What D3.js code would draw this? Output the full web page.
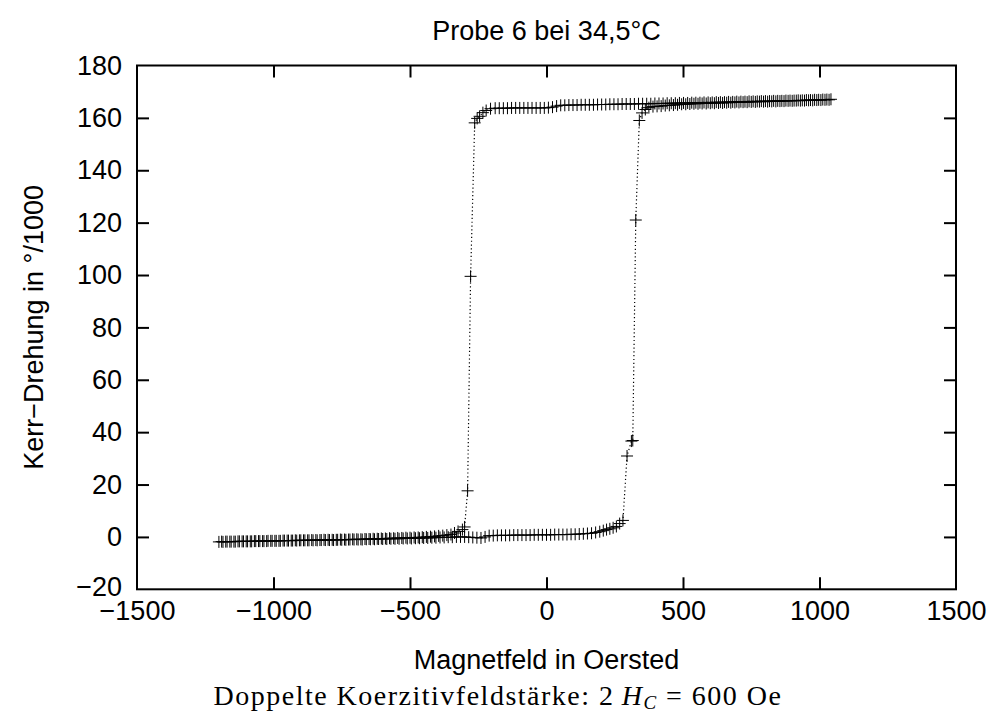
<!DOCTYPE html>
<html>

<head>
    <meta charset="utf-8">
    <title> Probe 6 bei 34,5°C </title>
    <script src="https://cdnjs.cloudflare.com/ajax/libs/d3/7.8.5/d3.min.js"></script>
    <style>
        html, body {
            margin: 0;
            padding: 0;
            background: #ffffff;
        }

        svg text {
            font-family: "Liberation Sans", Arial, Helvetica, sans-serif;
            fill: #000000;
        }

        text.caption {
            font-family: "Liberation Serif", "DejaVu Serif", serif;
        }
    </style>
</head>

<body>
    <div id="chart"></div>

    <script>
        // Achsen
        const xTicks = [-1500, -1000, -500, 0, 500, 1000, 1500];
        const yTicks = [-20, 0, 20, 40, 60, 80, 100, 120, 140, 160, 180];

        const titel = "Probe 6 bei 34,5°C";
        const xLabel = "Magnetfeld in Oersted";
        const yLabel = "Kerr\u2212Drehung in °/1000";

        // Messung: Feld steigend [Oe, Kerr-Drehung]
        const aufsteigend = [
            [-1200,-1.9],[-1185,-1.9],[-1170,-1.8],[-1155,-1.8],[-1140,-1.8],[-1125,-1.7],[-1110,-1.7],[-1095,-1.7],
            [-1080,-1.7],[-1065,-1.6],[-1050,-1.6],[-1035,-1.6],[-1020,-1.5],[-1005,-1.5],[-990,-1.5],[-975,-1.5],
            [-960,-1.4],[-945,-1.4],[-930,-1.4],[-915,-1.4],[-900,-1.3],[-885,-1.3],[-870,-1.3],[-855,-1.3],
            [-840,-1.3],[-825,-1.2],[-810,-1.2],[-795,-1.2],[-780,-1.2],[-765,-1.1],[-750,-1.1],[-735,-1.1],
            [-720,-1.0],[-705,-1.0],[-690,-1.0],[-675,-1.0],[-660,-0.9],[-645,-0.9],[-630,-0.9],[-615,-0.8],
            [-600,-0.8],[-585,-0.8],[-570,-0.7],[-555,-0.7],[-540,-0.7],[-525,-0.6],[-510,-0.6],[-495,-0.6],
            [-480,-0.5],[-465,-0.5],[-450,-0.4],[-435,-0.4],[-420,-0.3],[-405,-0.3],[-390,-0.2],[-375,-0.2],
            [-360,-0.1],[-345,-0.1],[-330,0.0],[-315,0.0],[-300,0.0],[-285,-0.1],[-270,-0.2],[-255,-0.3],
            [-240,-0.4],[-225,0.0],[-210,0.5],[-195,0.5],[-180,0.6],[-165,0.6],[-150,0.6],[-135,0.6],
            [-120,0.7],[-105,0.7],[-90,0.7],[-75,0.7],[-60,0.7],[-45,0.8],[-30,0.8],[-15,0.8],
            [0,0.8],[15,0.8],[30,0.9],[45,0.9],[60,0.9],[75,0.9],[90,1.0],[105,1.0],
            [120,1.1],[135,1.2],[150,1.3],[165,1.4],[180,1.7],[195,2.0],
            [208,2.4],[220,2.8],[232,3.1],[244,3.5],[256,4.0],[268,5.1],[280,6.3],
            [295,30.9],[311,36.6],[316,36.8],[327,121.0],[340,159.0],[350,161.9],[362,163.2],[375,163.9],
            [390,164.3],[405,164.4],[420,164.5],[435,164.7],[450,164.8],[465,164.9],[480,165.0],[495,165.2],
            [510,165.2],[525,165.3],[540,165.4],[555,165.4],[570,165.5],[585,165.5],[600,165.6],[615,165.6],
            [630,165.7],[645,165.7],[660,165.8],[675,165.8],[690,165.9],[705,165.9],[720,166.0],[735,166.0],
            [750,166.1],[765,166.1],[780,166.2],[795,166.2],[810,166.2],[825,166.3],[840,166.3],[855,166.4],
            [870,166.4],[885,166.5],[900,166.5],[915,166.6],[930,166.6],[945,166.6],[960,166.7],[975,166.7],
            [990,166.8],[1005,166.8],[1020,166.9],[1035,166.9]
        ];

        // Messung: Feld fallend [Oe, Kerr-Drehung]
        const absteigend = [
            [1042,167.1],[1027,167.0],[1012,167.0],[997,166.9],[982,166.9],[967,166.8],[952,166.8],[937,166.7],
            [922,166.7],[907,166.6],[892,166.6],[877,166.6],[862,166.5],[847,166.5],[832,166.5],[817,166.4],
            [802,166.4],[787,166.4],[772,166.3],[757,166.3],[742,166.3],[727,166.2],[712,166.2],[697,166.2],
            [682,166.1],[667,166.1],[652,166.0],[637,166.0],[622,166.0],[607,165.9],[592,165.9],[577,165.9],
            [562,165.8],[547,165.8],[532,165.8],[517,165.7],[502,165.7],[487,165.7],[472,165.6],[457,165.6],
            [442,165.6],[427,165.5],[412,165.5],[397,165.5],[382,165.4],[367,165.4],[352,165.4],[337,165.4],
            [322,165.3],[307,165.3],[292,165.3],[277,165.3],[262,165.2],[247,165.2],[232,165.2],[217,165.1],
            [202,165.1],[187,165.1],[172,165.0],[157,165.0],[142,165.0],[127,165.0],[112,164.9],[97,164.9],
            [82,164.9],[67,164.8],[52,164.8],[37,164.5],[22,164.1],[7,163.9],[-8,163.8],[-23,163.8],
            [-38,163.8],[-53,163.8],[-68,163.8],[-83,163.8],[-98,163.8],[-113,163.8],[-128,163.8],[-143,163.7],
            [-158,163.7],[-173,163.7],[-188,163.7],
            [-205,163.5],[-221,162.8],[-233,162.0],[-245,160.6],[-254,159.8],[-263,158.1],
            [-278,99.5],[-289,17.6],[-300,3.8],[-308,2.8],[-324,2.1],[-337,1.5],
            [-350,0.9],[-365,0.7],[-380,0.5],[-395,0.4],[-410,0.2],[-425,0.1],[-440,0.0],[-455,-0.1],
            [-470,-0.2],[-485,-0.2],[-500,-0.3],[-515,-0.3],[-530,-0.4],[-545,-0.4],[-560,-0.5],[-575,-0.5],
            [-590,-0.6],[-605,-0.6],[-620,-0.7],[-635,-0.7],[-650,-0.8],[-665,-0.8],[-680,-0.9],[-695,-0.9],
            [-710,-0.9],[-725,-1.0],[-740,-1.0],[-755,-1.0],[-770,-1.1],[-785,-1.1],[-800,-1.1],[-815,-1.1],
            [-830,-1.2],[-845,-1.2],[-860,-1.2],[-875,-1.3],[-890,-1.3],[-905,-1.3],[-920,-1.3],[-935,-1.4],
            [-950,-1.4],[-965,-1.4],[-980,-1.5],[-995,-1.5],[-1010,-1.5],[-1025,-1.6],[-1040,-1.6],[-1055,-1.6],
            [-1070,-1.6],[-1085,-1.7],[-1100,-1.7],[-1115,-1.7],[-1130,-1.7],[-1145,-1.8],[-1160,-1.8],[-1175,-1.8],
            [-1190,-1.8]
        ];

        const width = 995, height = 715;
        const plot = {left: 137, right: 956, top: 65.5, bottom: 589.3};
        const tickLen = 12;
        const fontSize = 27;

        const svg = d3.select("#chart")
            .append("svg")
            .attr("width", width)
            .attr("height", height);

        const x = d3.scaleLinear().domain([-1500, 1500]).range([plot.left, plot.right]);
        const y = d3.scaleLinear().domain([-20, 180]).range([plot.bottom, plot.top]);

        // Achsen mit Ticks nach innen (wie gnuplot), gespiegelt oben und rechts
        const xAxis = svg.append("g")
            .attr("transform", `translate(0,${plot.bottom})`)
            .call(d3.axisBottom(x).tickValues(xTicks).tickFormat(d3.format("d"))
                .tickSize(-tickLen).tickPadding(12));

        svg.append("g")
            .attr("transform", `translate(0,${plot.top})`)
            .call(d3.axisTop(x).tickValues(xTicks.slice(1, -1)).tickSize(-tickLen).tickFormat(""));

        const yAxis = svg.append("g")
            .attr("transform", `translate(${plot.left},0)`)
            .call(d3.axisLeft(y).tickValues(yTicks).tickFormat(d3.format("d"))
                .tickSize(-tickLen).tickPadding(15));

        svg.append("g")
            .attr("transform", `translate(${plot.right},0)`)
            .call(d3.axisRight(y).tickValues(yTicks.slice(1, -1)).tickSize(-tickLen).tickFormat(""));

        svg.selectAll(".domain").remove();
        svg.selectAll(".tick line").attr("stroke", "#000").attr("stroke-width", 2);
        // keine Ticks in den Ecken
        xAxis.selectAll(".tick").filter(d => d === -1500 || d === 1500).select("line").remove();
        yAxis.selectAll(".tick").filter(d => d === -20 || d === 180).select("line").remove();

        svg.selectAll(".tick text")
            .attr("font-size", fontSize)
            .attr("font-family", "Liberation Sans, Arial, sans-serif");
        // -20 etwas hoeher, damit es nicht an -1500 stoesst
        yAxis.selectAll(".tick").filter(d => d === -20).select("text").attr("dy", "0.22em");

        // Rahmen
        svg.append("rect")
            .attr("x", plot.left)
            .attr("y", plot.top)
            .attr("width", plot.right - plot.left)
            .attr("height", plot.bottom - plot.top)
            .attr("fill", "none")
            .attr("stroke", "#000")
            .attr("stroke-width", 2);

        // Daten: gepunktete Linie + Kreuze
        const alle = aufsteigend.concat(absteigend);

        const line = d3.line()
            .x(d => x(d[0]))
            .y(d => y(d[1]));

        svg.append("path")
            .datum(alle)
            .attr("d", line)
            .attr("fill", "none")
            .attr("stroke", "#000")
            .attr("stroke-width", 1.2)
            .attr("stroke-dasharray", "1.2,2.6");

        svg.append("g")
            .selectAll("path")
            .data(alle)
            .join("path")
            .attr("transform", d => `translate(${x(d[0])},${y(d[1])})`)
            .attr("d", "M-6,0H6M0,-6V6")
            .attr("fill", "none")
            .attr("stroke", "#000")
            .attr("stroke-width", 1);

        // Texte
        svg.append("text")
            .attr("x", (plot.left + plot.right) / 2)
            .attr("y", 40)
            .attr("text-anchor", "middle")
            .attr("font-size", fontSize)
            .text(titel);

        svg.append("text")
            .attr("x", (plot.left + plot.right) / 2)
            .attr("y", 669)
            .attr("text-anchor", "middle")
            .attr("font-size", fontSize)
            .text(xLabel);

        svg.append("text")
            .attr("transform", `translate(43,${(plot.top + plot.bottom) / 2}) rotate(-90)`)
            .attr("text-anchor", "middle")
            .attr("font-size", fontSize)
            .text(yLabel);

        const caption = svg.append("text")
            .attr("class", "caption")
            .attr("x", 498)
            .attr("y", 705)
            .attr("text-anchor", "middle")
            .attr("font-size", 28)
            .attr("letter-spacing", 1.5);
        caption.append("tspan").text("Doppelte Koerzitivfeldstärke: 2\u2009");
        caption.append("tspan").attr("font-style", "italic").text("H");
        caption.append("tspan").attr("font-style", "italic").attr("font-size", 19).attr("dy", 4).text("C");
        caption.append("tspan").attr("dy", -4).text(" = 600 Oe");
    </script>

</body>

</html>
